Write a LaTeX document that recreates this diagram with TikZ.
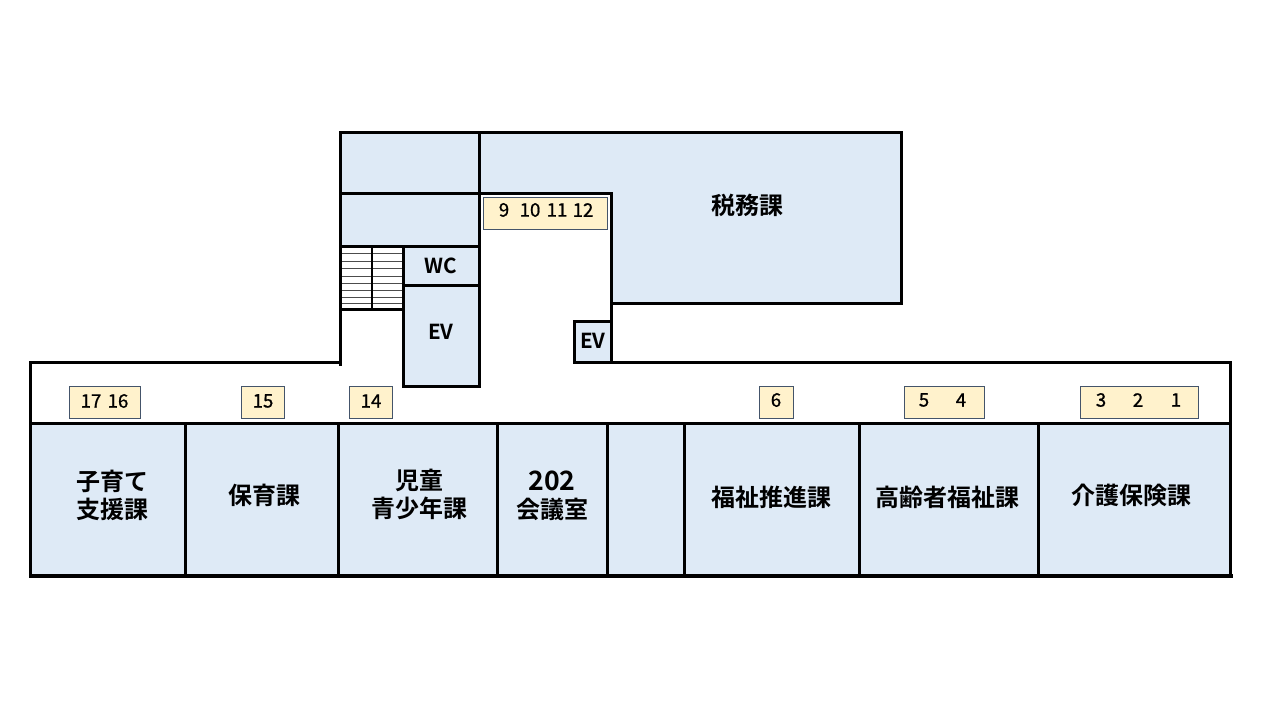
\documentclass[tikz,border=0pt]{standalone}
\usepackage{fontspec}
\newfontfamily\cjk{Noto Sans CJK JP}[BoldFont={Noto Sans CJK JP Bold}]
\newfontfamily\numfont{Noto Sans CJK JP}[FakeBold=1]
\definecolor{roomfill}{HTML}{DEEAF6}
\definecolor{badgefill}{HTML}{FFF2CC}
\definecolor{badgeline}{HTML}{44546A}
\tikzset{
  wall/.style={line width=2.25pt,line cap=rect,draw=black},
  room/.style={fill=roomfill,draw=none},
  tread/.style={line width=0.6pt,draw=black!70},
  label/.style={font=\cjk\bfseries\fontsize{18}{21}\selectfont,align=center,inner sep=0pt,text=black},
  small/.style={font=\cjk\bfseries\fontsize{15.5}{18}\selectfont,inner sep=0pt,text=black},
  badge/.style={fill=badgefill,draw=badgeline,line width=0.6pt},
  num/.style={font=\numfont\fontsize{14}{16}\selectfont,inner sep=0pt,text=black}
}
\begin{document}
\begin{tikzpicture}[x=0.75pt,y=-0.75pt]
\useasboundingbox (0,0) rectangle (1280,720);
% room fills
\fill[room] (30.5,423) rectangle (1230.5,575);
\fill[room] (340.5,132.5) rectangle (479.5,247);
\fill[room] (479.5,132.5) -- (901.5,132.5) -- (901.5,303.5) -- (611.5,303.5) -- (611.5,193.5) -- (479.5,193.5) -- cycle;
\fill[room] (403.5,247) rectangle (479.5,386.5);
\fill[room] (574.5,321.5) rectangle (611.5,362.5);
% stair treads
\foreach \y in {253,261,268,276,283,290,297,303}
  \draw[tread] (340.5,\y) -- (403.5,\y);
% walls
\draw[wall] (340.5,364) -- (340.5,132.5) -- (901.5,132.5) -- (901.5,303.5) -- (611.5,303.5);
\draw[wall] (340.5,362.5) -- (30.5,362.5) -- (30.5,575.5);
\draw[wall] (574.5,362.5) -- (1230.5,362.5) -- (1230.5,575.5);
\draw[wall,line width=3pt] (30.5,575.5) -- (1230.5,575.5);
\draw[wall] (30.5,423.5) -- (1230.5,423.5);
\foreach \x in {185.5,338.5,497.5,607.5,684.5,859.5,1038.5}
  \draw[wall] (\x,423.5) -- (\x,575.5);
\draw[wall] (340.5,193.5) -- (611.5,193.5) -- (611.5,362.5);
\draw[wall] (479.5,132.5) -- (479.5,386.5) -- (403.5,386.5) -- (403.5,246.5);
\draw[wall] (340.5,246.5) -- (479.5,246.5);
\draw[wall] (403.5,285.5) -- (479.5,285.5);
\draw[wall] (340.5,309.5) -- (403.5,309.5);
\draw[wall,line width=1.5pt] (372,246.5) -- (372,309.5);
\draw[wall] (574.5,362.5) -- (574.5,321.5) -- (611.5,321.5);
% room labels
\node[label] (zeimu) at (747,205) {税務課};
\node[label] (kosodate) at (112,495.5) {子育て\\支援課};
\node[label] (hoiku) at (264,495.5) {保育課};
\node[label] (jido) at (419,494.5) {児童\\青少年課};
\node[label] (kaigi) at (552,496) {{\fontsize{20}{21}\selectfont 202}\\会議室};
\node[label] (fukushi) at (771,497) {福祉推進課};
\node[label] (korei) at (947,497) {高齢者福祉課};
\node[label] (kaigo) at (1131,495.5) {介護保険課};
\node[small] (wc) at (441,266) {WC};
\node[small] (ev1) at (441,332) {EV};
\node[small] (ev2) at (593,341) {EV};
% badges
\draw[badge] (483.5,197.5) rectangle (607.5,229.5);
\draw[badge] (69.5,386.5) rectangle (140.5,418.5);
\draw[badge] (241.5,386.5) rectangle (284.5,418.5);
\draw[badge] (349.5,386.5) rectangle (392.5,418.5);
\draw[badge] (759.5,386.5) rectangle (793.5,418.5);
\draw[badge] (904.5,386.5) rectangle (984.5,418.5);
\draw[badge] (1080.5,386.5) rectangle (1198.5,418.5);
\node[num] (n9) at (504,210) {9};
\node[num] (n10) at (530,210) {10};
\node[num] (n11) at (557,210) {11};
\node[num] (n12) at (583,210) {12};
\node[num] (n17) at (91,401) {17};
\node[num] (n16) at (118,401) {16};
\node[num] (n15) at (263,401) {15};
\node[num] (n14) at (371,401) {14};
\node[num] (n6) at (776,400) {6};
\node[num] (n5) at (924,400) {5};
\node[num] (n4) at (961,400) {4};
\node[num] (n3) at (1101,400) {3};
\node[num] (n2) at (1138,400) {2};
\node[num] (n1) at (1176,400) {1};
\end{tikzpicture}
\end{document}
